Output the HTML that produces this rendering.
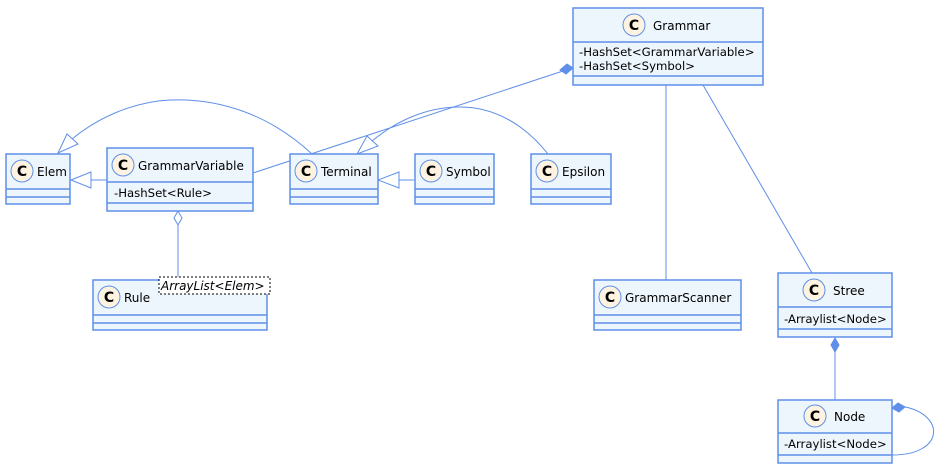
<!DOCTYPE html>
<html><head><meta charset="utf-8"><style>
html,body{margin:0;padding:0;background:#fff}
svg{display:block}
text{font-family:"DejaVu Sans","Liberation Sans",sans-serif;fill:#000}
.b{fill:#eef6fd;stroke:#5f8fe8;stroke-width:1.5}
.l{stroke:#5f8fe8;stroke-width:1.5}
.c{fill:none;stroke:#5f8fe8;stroke-width:1}
.ci{fill:#fdf3e0;stroke:#5f8fe8;stroke-width:1}
.n{font-size:12px}
.a{font-size:11.7px}
.k{font-size:14px;font-weight:bold}
</style></head><body>
<svg width="940" height="473" viewBox="0 0 940 473">
<path class="c" d="M566,70 L253,173"/>
<path class="c" d="M666,85 L666,280"/>
<path class="c" d="M703,85 L812,273"/>
<path class="c" d="M835,352 L835,400"/>
<path class="c" d="M905,407 C945,415 945,455 892,455"/>
<path class="c" d="M312,154 C270,115 220,98 170,100 C130,102 95,120 72,139"/>
<path class="c" d="M91,180 L107,180"/>
<path class="c" d="M178,225 L178,280"/>
<path class="c" d="M548,154 C525,125 495,107 460,107 C425,107 395,122 372,141"/>
<path class="c" d="M399,180 L414,180"/>
<polygon points="58,153 67,134 78,144" fill="#fff" stroke="#5f8fe8"/>
<polygon points="71,180 91,172 91,188" fill="#fff" stroke="#5f8fe8"/>
<polygon points="378,180 399,172 399,188" fill="#fff" stroke="#5f8fe8"/>
<polygon points="357,154 367,136 378,146" fill="#fff" stroke="#5f8fe8"/>
<polygon points="573,68 567,64 560,70 566,74" fill="#5f8fe8" stroke="#5f8fe8"/>
<polygon points="835,338 839,345 835,352 831,345" fill="#5f8fe8" stroke="#5f8fe8"/>
<polygon points="892,408 898,403 905,407 899,412" fill="#5f8fe8" stroke="#5f8fe8"/>
<polygon points="178,211 182,218 178,225 174,218" fill="#fff" stroke="#5f8fe8"/>

<rect class="b" x="573" y="8" width="190" height="77"/>
<line class="l" x1="573" y1="42" x2="763" y2="42"/><line class="l" x1="573" y1="76" x2="763" y2="76"/>
<circle class="ci" cx="634" cy="25" r="11"/><text x="634" y="30" text-anchor="middle" class="k">C</text>
<text class="n" x="653" y="30">Grammar</text>
<text class="a" x="579" y="56">-HashSet&lt;GrammarVariable&gt;</text>
<text class="a" x="579" y="70">-HashSet&lt;Symbol&gt;</text>

<rect class="b" x="6" y="154" width="64" height="50"/>
<line class="l" x1="6" y1="189" x2="70" y2="189"/><line class="l" x1="6" y1="197" x2="70" y2="197"/>
<circle class="ci" cx="22" cy="171" r="11"/><text x="22" y="176" text-anchor="middle" class="k">C</text>
<text class="n" x="37" y="176">Elem</text>

<rect class="b" x="107" y="148" width="146" height="63"/>
<line class="l" x1="107" y1="182" x2="253" y2="182"/><line class="l" x1="107" y1="203" x2="253" y2="203"/>
<circle class="ci" cx="123" cy="165" r="11"/><text x="123" y="170" text-anchor="middle" class="k">C</text>
<text class="n" x="138" y="170">GrammarVariable</text>
<text class="a" x="114" y="197">-HashSet&lt;Rule&gt;</text>

<rect class="b" x="290" y="154" width="88" height="50"/>
<line class="l" x1="290" y1="189" x2="378" y2="189"/><line class="l" x1="290" y1="197" x2="378" y2="197"/>
<circle class="ci" cx="306" cy="171" r="11"/><text x="306" y="176" text-anchor="middle" class="k">C</text>
<text class="n" x="321" y="176">Terminal</text>

<rect class="b" x="415" y="154" width="79" height="50"/>
<line class="l" x1="415" y1="189" x2="494" y2="189"/><line class="l" x1="415" y1="197" x2="494" y2="197"/>
<circle class="ci" cx="431" cy="171" r="11"/><text x="431" y="176" text-anchor="middle" class="k">C</text>
<text class="n" x="446" y="176">Symbol</text>

<rect class="b" x="531" y="154" width="80" height="50"/>
<line class="l" x1="531" y1="189" x2="611" y2="189"/><line class="l" x1="531" y1="197" x2="611" y2="197"/>
<circle class="ci" cx="547" cy="171" r="11"/><text x="547" y="176" text-anchor="middle" class="k">C</text>
<text class="n" x="562" y="176">Epsilon</text>

<rect class="b" x="93" y="280" width="174" height="50"/>
<line class="l" x1="93" y1="315" x2="267" y2="315"/><line class="l" x1="93" y1="323" x2="267" y2="323"/>
<circle class="ci" cx="109" cy="297" r="11"/><text x="109" y="302" text-anchor="middle" class="k">C</text>
<text class="n" x="124" y="302">Rule</text>
<rect x="159" y="277" width="111" height="17" fill="#fff" stroke="#000" stroke-width="1" stroke-dasharray="2,2"/>
<text x="161" y="290" style="font-size:12px;font-style:italic">ArrayList&lt;Elem&gt;</text>

<rect class="b" x="594" y="280" width="147" height="50"/>
<line class="l" x1="594" y1="315" x2="741" y2="315"/><line class="l" x1="594" y1="323" x2="741" y2="323"/>
<circle class="ci" cx="610" cy="297" r="11"/><text x="610" y="302" text-anchor="middle" class="k">C</text>
<text class="n" x="625" y="302">GrammarScanner</text>

<rect class="b" x="778" y="273" width="114" height="64"/>
<line class="l" x1="778" y1="307" x2="892" y2="307"/><line class="l" x1="778" y1="329" x2="892" y2="329"/>
<circle class="ci" cx="814" cy="290" r="11"/><text x="814" y="295" text-anchor="middle" class="k">C</text>
<text class="n" x="833" y="295">Stree</text>
<text class="a" x="784" y="323">-Arraylist&lt;Node&gt;</text>

<rect class="b" x="778" y="400" width="114" height="63"/>
<line class="l" x1="778" y1="433" x2="892" y2="433"/><line class="l" x1="778" y1="455" x2="892" y2="455"/>
<circle class="ci" cx="815" cy="416" r="11"/><text x="815" y="421" text-anchor="middle" class="k">C</text>
<text class="n" x="834" y="421">Node</text>
<text class="a" x="784" y="448">-Arraylist&lt;Node&gt;</text>
</svg>
</body></html>
